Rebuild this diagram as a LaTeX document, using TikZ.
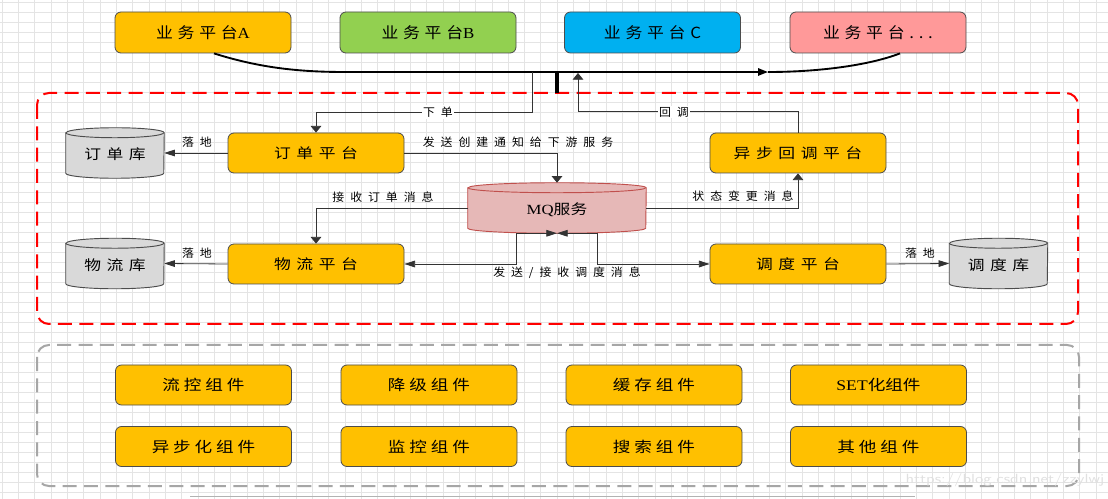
\documentclass[tikz,border=0pt]{standalone}
\usepackage{fontspec}
\usepackage{graphicx}
\setmainfont{Liberation Serif}
\newfontfamily\cjk{Noto Sans CJK SC}
\usetikzlibrary{arrows.meta,calc}
\definecolor{gold}{HTML}{FFC000}
\definecolor{lgreen}{HTML}{92D050}
\definecolor{sky}{HTML}{00B0F0}
\definecolor{pinkc}{HTML}{FF9999}
\definecolor{mqfill}{HTML}{E6B8B7}
\definecolor{mqdraw}{HTML}{C0504D}
\definecolor{dbfill}{HTML}{D9D9D9}
\definecolor{gridc}{HTML}{E4E4E4}
\newcommand\tx[2]{\scalebox{#1}[1]{#2}}
\newcommand\cyl[4]{%
  \path[fill=#3,draw=#4,line width=0.7pt] ([yshift=-3.75pt]#1.north west) -- ([yshift=3.75pt]#1.south west)
    arc[start angle=180,end angle=360,x radius=#2,y radius=3.75pt]
    -- ([yshift=-3.75pt]#1.north east)
    arc[start angle=0,end angle=180,x radius=#2,y radius=3.75pt] -- cycle;
  \draw[draw=#4,line width=0.7pt] ([yshift=-3.75pt]#1.north west)
    arc[start angle=180,end angle=360,x radius=#2,y radius=3.75pt];
}
\tikzset{
  harr/.tip={Triangle[length=8pt,width=5pt]},
  varr/.tip={Triangle[length=5pt,width=8pt]},
  barr/.tip={Triangle[length=7.5pt,width=5.5pt]},
  box/.style={draw=black!70, line width=0.6pt, rounded corners=4.5pt, minimum width=132pt,
    minimum height=30pt, inner sep=0pt, fill=gold},
  toptxt/.style={font=\cjk\fontsize{11.5}{13}\selectfont\addfontfeature{LetterSpace=28}},
  midtxt/.style={font=\cjk\fontsize{10.5}{12}\selectfont\addfontfeature{LetterSpace=33}},
  bottxt/.style={font=\cjk\fontsize{11}{13}\selectfont\addfontfeature{LetterSpace=22}},
  elab/.style={font=\cjk\fontsize{8.5}{10}\selectfont\addfontfeature{LetterSpace=50}, inner sep=1pt},
  dbbox/.style={minimum width=73.5pt, minimum height=37.5pt, inner sep=0pt},
  edge/.style={draw=black!80, line width=0.6pt},
  bus/.style={draw=black, line width=1.4pt},
}
\begin{document}
\begin{tikzpicture}[x=0.75pt,y=-0.75pt]
\useasboundingbox (0,0) rectangle (1108,499);
\fill[white] (0,0) rectangle (1108,499);
% grid
\foreach \i in {0,...,67} \draw[gridc, line width=0.6pt] ({2+16.33*\i},0) -- ++(0,499);
\foreach \j in {0,...,49} \draw[gridc, line width=0.6pt] (0,{2.7+10*\j}) -- ++(1108,0);

% containers
\draw[red, line width=1.5pt, dash pattern=on 10.5pt off 5.5pt, rounded corners=9pt] (37,93) rectangle (1078,324);
\draw[black!35, line width=1.5pt, dash pattern=on 10.5pt off 5.5pt, rounded corners=9pt] (37,345) rectangle (1079,486);

% top platforms
\node[box, fill=gold, minimum height=30.75pt, toptxt] (pA) at (203,32.5) {\tx{1.1}{业务平台\rmfamily A}};
\node[box, fill=lgreen, minimum height=30.75pt, toptxt] (pB) at (428,32.5) {\tx{1.1}{业务平台\rmfamily B}};
\node[box, fill=sky, minimum height=30.75pt, toptxt] (pC) at (652.5,32.5) {\tx{1.1}{业务平台C}};
\node[box, fill=pinkc, minimum height=30.75pt, toptxt] (pD) at (878,32.5) {\tx{1.1}{业务平台...}};

% bus
\coordinate (busR) at (768,72);
\coordinate (bar) at (557,72);
\coordinate (xd) at (532,72);
\coordinate (hdtip) at (578,73);
\draw[bus,-{barr}] ([xshift=8.25pt]pA.south) .. controls (260,68) and (300,72) .. (345,72) -- (busR);
\draw[bus] (busR) .. controls (820,72) and (870,65) .. ([xshift=16.5pt]pD.south);
\draw[black, line width=3pt] (bar) -- ++(0,21);

% middle platforms
\node[box, midtxt] (dd) at (316,153) {\tx{1.2}{订单平台}};
\node[box, midtxt] (wl) at (316,264) {\tx{1.2}{物流平台}};
\node[box, midtxt] (hd) at (798,153) {\tx{1.2}{异步回调平台}};
\node[box, midtxt] (dp) at (798,264) {\tx{1.2}{调度平台}};

% databases
\node[dbbox] (ddk) at (115,153) {};
\node[dbbox] (wlk) at (115,263.5) {};
\node[dbbox] (dpk) at (998.5,263.5) {};
\node[dbbox, minimum width=133.5pt] (mq) at (557,208) {};
\cyl{ddk}{36.75pt}{dbfill}{black!70}
\cyl{wlk}{36.75pt}{dbfill}{black!70}
\cyl{dpk}{36.75pt}{dbfill}{black!70}
\cyl{mq}{66.75pt}{mqfill}{mqdraw}
\node[midtxt] (ddkt) at ([yshift=-1pt]ddk.center) {\tx{1.2}{订单库}};
\node[midtxt] (wlkt) at ([yshift=-1pt]wlk.center) {\tx{1.2}{物流库}};
\node[midtxt] (dpkt) at ([yshift=-1pt]dpk.center) {\tx{1.2}{调度库}};
\node[font=\cjk\fontsize{10.5}{12}\selectfont\addfontfeature{LetterSpace=15}] (mqt) at ([yshift=-1pt]mq.center) {\tx{1.2}{\rmfamily MQ\cjk 服务}};

% connectors
\draw[edge,-{varr}] (xd) -- ++(0,40) -| (dd.north);
\node[elab, fill=white] (lxd) at (438,112) {\tx{1.05}{下单}};
\draw[edge,-{varr}] (hd.north) -- ++(0,-21) -| (hdtip);
\node[elab, fill=white] (lhd) at (674,112) {\tx{1.05}{回调}};

\draw[edge,-{harr}] (dd.west) -- (ddk.east);
\node[elab] (l1) at (197,142) {\tx{1.05}{落地}};
\draw[edge,-{harr}] (wl.west) -- (wlk.east);
\node[elab] (l2) at (197,253) {\tx{1.05}{落地}};
\draw[edge,-{harr}] (dp.east) -- (dpk.west);
\node[elab] (l3) at (920,253) {\tx{1.05}{落地}};

\draw[edge,-{varr}] (dd.east) -| (mq.north);
\node[elab] (l4) at (518,142) {\tx{1.05}{发送创建通知给下游服务}};
\draw[edge,-{varr}] (mq.west) -| (wl.north);
\node[elab] (l5) at (383,197) {\tx{1.05}{接收订单消息}};
\draw[edge,-{varr}] (mq.east) -| (hd.south);
\node[elab] (l6) at (743,196) {\tx{1.05}{状态变更消息}};
\draw[edge,{harr}-{harr}] (mq.south) -- ++(-41,0) |- (wl.east);
\draw[edge,{harr}-{harr}] (mq.south) -- ++(40,0) |- (dp.west);
\node[elab] (l7) at (567,273) {\tx{1.05}{发送/接收调度消息}};

% components
\node[box, bottxt] (c1) at (203.5,385) {\tx{1.2}{流控组件}};
\node[box, bottxt] (c2) at (429,385) {\tx{1.2}{降级组件}};
\node[box, bottxt] (c3) at (654,385) {\tx{1.2}{缓存组件}};
\node[box, bottxt] (c4) at (878.5,385) {\tx{1.2}{\rmfamily SET\cjk 化组件}};
\node[box, bottxt] (c5) at (203.5,446.5) {\tx{1.2}{异步化组件}};
\node[box, bottxt] (c6) at (429,446.5) {\tx{1.2}{监控组件}};
\node[box, bottxt] (c7) at (654,446.5) {\tx{1.2}{搜索组件}};
\node[box, bottxt] (c8) at (878.5,446.5) {\tx{1.2}{其他组件}};

% bottom line and watermark
\draw[black!30, line width=0.6pt] (190,496) -- (915,496);
\node[font=\sffamily\fontsize{10}{12}\selectfont, text=black!12, inner sep=0pt] (wm) at (1005,480) {\tx{1.25}{https://blog.csdn.net/zzylwj}};
\end{tikzpicture}
\end{document}
